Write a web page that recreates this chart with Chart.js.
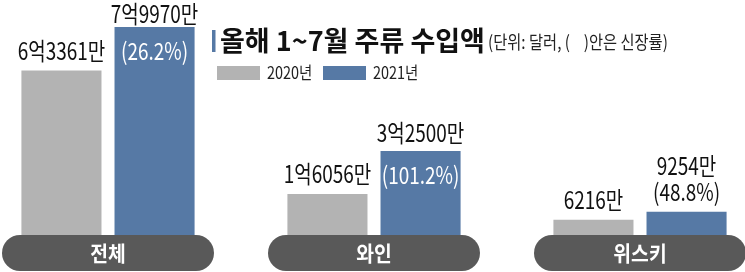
<!DOCTYPE html>
<html>
<head>
<meta charset="utf-8">
<script src="https://cdn.jsdelivr.net/npm/chart.js@4/dist/chart.umd.min.js"></script>
<style>
  html, body { margin: 0; padding: 0; background: #fff; overflow: hidden; }
  #wrap { position: relative; width: 745px; height: 272px; overflow: hidden; }
  #wrap canvas { position: absolute; left: -25px; top: 0; }
</style>
</head>
<body>
<div id="wrap"><canvas id="chart" width="798" height="272"></canvas></div>
<script>
// 단위: 만 달러
const categories = ["전체", "와인", "위스키"];
const years = ["2020년", "2021년"];
const values2020 = [63361, 16056, 6216];
const values2021 = [79970, 32500, 9254];
const growth = ["26.2%", "101.2%", "48.8%"];

const GRAY = "#b3b3b3";
const BLUE = "#5679a5";
const PILL = "#595959";
const FONT = "'Noto Sans CJK KR', 'Noto Sans', sans-serif";
const SHIFT = 25; // canvas is moved left so the first group sits at the edge
const VFONT = "24px " + FONT;
const VSX = 0.79;

function fmt(v) {
  const eok = Math.floor(v / 10000);
  const man = v % 10000;
  return eok > 0 ? eok + "억" + man + "만" : man + "만";
}

function narrowText(ctx, text, x, y, font, color, sx, align) {
  ctx.save();
  ctx.font = font;
  ctx.fillStyle = color;
  ctx.textBaseline = "middle";
  ctx.translate(x, y);
  ctx.scale(sx, 1);
  const w = ctx.measureText(text).width;
  let dx = 0;
  if (align === "center") dx = -w / 2;
  ctx.fillText(text, dx, 0);
  ctx.restore();
}

const decor = {
  id: "decor",
  afterDatasetsDraw(chart) {
    const ctx = chart.ctx;
    const xs = chart.scales.x;
    const area = chart.chartArea;

    // value labels
    const m0 = chart.getDatasetMeta(0).data;
    const m1 = chart.getDatasetMeta(1).data;
    categories.forEach((c, i) => {
      const g = m0[i], b = m1[i];
      narrowText(ctx, fmt(values2020[i]), g.x, g.y - 20, VFONT, "#111", VSX, "center");
      const bh = b.base - b.y;
      if (bh > 60) {
        narrowText(ctx, fmt(values2021[i]), b.x, Math.max(b.y - 18, 14), VFONT, "#111", VSX, "center");
        narrowText(ctx, "(" + growth[i] + ")", b.x, b.y + 24, VFONT, "#fff", VSX, "center");
      } else {
        narrowText(ctx, fmt(values2021[i]), b.x, b.y - 46, VFONT, "#111", VSX, "center");
        narrowText(ctx, "(" + growth[i] + ")", b.x, b.y - 20, VFONT, "#111", VSX, "center");
      }
    });

    // category pills
    categories.forEach((c, i) => {
      const cx = xs.getPixelForValue(i);
      const w = 212, h = 36, top = area.bottom - 1;
      ctx.save();
      ctx.fillStyle = PILL;
      ctx.beginPath();
      ctx.roundRect(cx - w / 2, top, w, h, h / 2);
      ctx.fill();
      ctx.restore();
      narrowText(ctx, c, cx, top + 18, "bold 21px " + FONT, "#fff", 0.92, "center");
    });

    // title + legend
    ctx.save();
    ctx.translate(SHIFT, 0);
    ctx.fillStyle = BLUE;
    ctx.fillRect(212, 30, 3.5, 22);
    narrowText(ctx, "올해 1~7월 주류 수입액", 220, 41, "bold 27px " + FONT, "#111", 1.0, "left");
    narrowText(ctx, "(단위: 달러, (    )안은 신장률)", 488, 42, "18px " + FONT, "#222", 0.85, "left");
    const sw = [GRAY, BLUE];
    const lx = [217, 323];
    years.forEach((y, i) => {
      ctx.fillStyle = sw[i];
      ctx.fillRect(lx[i], 66, 43, 14);
      narrowText(ctx, y, lx[i] + 50, 73, "17px " + FONT, "#222", 0.85, "left");
    });
    ctx.restore();
  }
};

new Chart(document.getElementById("chart").getContext("2d"), {
  type: "bar",
  data: {
    labels: categories,
    datasets: [
      { label: years[0], data: values2020, backgroundColor: GRAY, borderWidth: 0 },
      { label: years[1], data: values2021, backgroundColor: BLUE, borderWidth: 0 }
    ]
  },
  options: {
    responsive: false,
    animation: false,
    layout: { padding: { top: 27, bottom: 36, left: 0, right: 0 } },
    datasets: { bar: { categoryPercentage: 0.7, barPercentage: 0.86 } },
    plugins: { legend: { display: false }, tooltip: { enabled: false } },
    scales: {
      x: { display: false, grid: { display: false } },
      y: { display: false, min: 0, max: 80000 }
    }
  },
  plugins: [decor]
});
</script>
</body>
</html>
